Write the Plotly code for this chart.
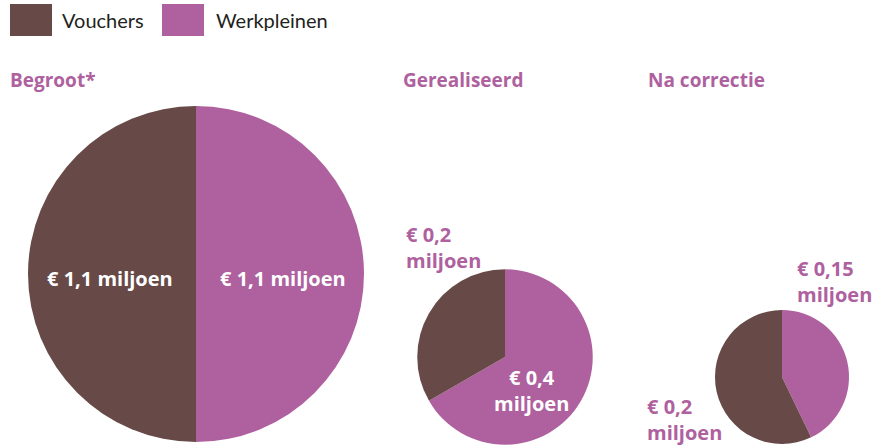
import plotly.graph_objects as go

W, H = 885, 445

# Data (miljoen euro)
series = ["Vouchers", "Werkpleinen"]
panels = ["Begroot*", "Gerealiseerd", "Na correctie"]
vouchers = [1.1, 0.2, 0.2]
werkpleinen = [1.1, 0.4, 0.15]

colors = {"Vouchers": "#674a47", "Werkpleinen": "#ae619e"}
PURPLE = "#ae619e"
FONT = "Lato"
BOLD_FONT = "Open Sans"


def px(x):
    return min(1.0, max(0.0, x / W))


def py(y):
    return min(1.0, max(0.0, 1 - y / H))


def euro(v):
    return "€ " + str(v).replace(".", ",")


# pie layout in pixels: centre x, centre y, radius (area scales with total)
R_MAX = 168.0
totals = [a + b for a, b in zip(vouchers, werkpleinen)]
centres = [(196, 274), (505, 357), (782, 377)]

fig = go.Figure()
for i, (cx, cy) in enumerate(centres):
    r = R_MAX * (totals[i] / totals[0]) ** 0.5
    fig.add_trace(go.Pie(
        labels=["Werkpleinen", "Vouchers"],
        values=[werkpleinen[i], vouchers[i]],
        marker=dict(colors=[colors["Werkpleinen"], colors["Vouchers"]],
                    line=dict(width=0)),
        sort=False,
        direction="clockwise",
        rotation=0,
        textinfo="none",
        hoverinfo="label+value",
        showlegend=False,
        domain=dict(x=[px(cx - r), px(cx + r)], y=[py(cy + r), py(cy - r)]),
    ))

annotations = []
shapes = []

# legend boxes
legend_pos = [(10, 60), (162, 214)]
for name, (bx, tx) in zip(series, legend_pos):
    shapes.append(dict(type="rect", xref="paper", yref="paper",
                       x0=px(bx), x1=px(bx + 42), y0=py(36), y1=py(4),
                       fillcolor=colors[name], line=dict(width=0)))
    annotations.append(dict(text=name, x=px(tx), y=py(20), xref="paper", yref="paper",
                            xanchor="left", yanchor="middle", showarrow=False,
                            font=dict(family=FONT, size=20, color="#231f20")))

# panel titles
for title, tx in zip(panels, [8, 401, 646]):
    annotations.append(dict(text="<b>" + title + "</b>", x=px(tx), y=py(80),
                            xref="paper", yref="paper", xanchor="left", yanchor="middle",
                            showarrow=False,
                            font=dict(family=BOLD_FONT, size=19, color=PURPLE)))


def label(text, x, y, color, align="left", xanchor="left"):
    annotations.append(dict(text=text, x=px(x), y=py(y), xref="paper", yref="paper",
                            xanchor=xanchor, yanchor="middle", align=align,
                            showarrow=False,
                            font=dict(family=BOLD_FONT, size=20, color=color)))


# Begroot
label("<b>" + euro(vouchers[0]) + " miljoen</b>", 110, 278, "white", "center", "center")
label("<b>" + euro(werkpleinen[0]) + " miljoen</b>", 283, 278, "white", "center", "center")
# Gerealiseerd
label("<b>" + euro(vouchers[1]) + "<br>miljoen</b>", 404, 247, PURPLE)
label("<b>" + euro(werkpleinen[1]) + "<br>miljoen</b>", 531, 390, "white", "center", "center")
# Na correctie
label("<b>" + euro(werkpleinen[2]) + "<br>miljoen</b>", 795, 281, PURPLE)
label("<b>" + euro(vouchers[2]) + "<br>miljoen</b>", 645, 419, PURPLE)

fig.update_layout(
    width=W, height=H,
    margin=dict(l=0, r=0, t=0, b=0),
    paper_bgcolor="white",
    plot_bgcolor="white",
    annotations=annotations,
    shapes=shapes,
)

fig.write_html("out.html")
